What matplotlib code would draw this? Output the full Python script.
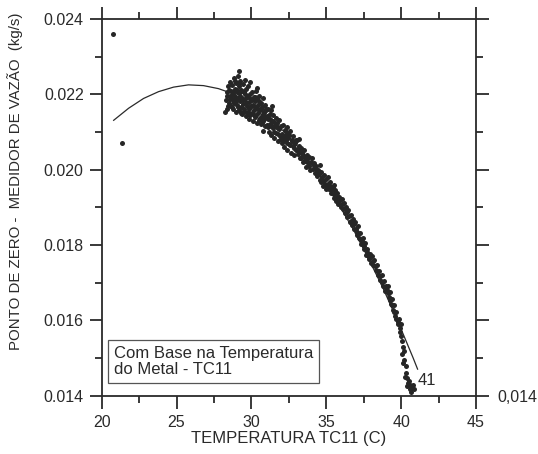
import matplotlib.pyplot as plt
from matplotlib.ticker import MultipleLocator, FormatStrFormatter

plt.rcParams['font.family'] = ['Liberation Sans', 'DejaVu Sans']

# fitted curve
fit_temp = [20.8, 21.8, 22.8, 23.8, 24.8, 25.8, 26.8, 27.8, 28.8, 29.8, 30.8,
            31.8, 32.8, 33.8, 34.8, 35.8, 36.8, 37.8, 38.8, 39.8, 40.8, 41.1]
fit_flow = [0.02131, 0.02163, 0.02189, 0.02207, 0.02219, 0.02225, 0.02223,
            0.02215, 0.02201, 0.02179, 0.02151, 0.02116, 0.02075, 0.02026,
            0.01971, 0.01910, 0.01842, 0.01766, 0.01685, 0.01596, 0.01501,
            0.01471]

# measured points (TC11 temperature, zero point of the flow meter)
temp = [
    20.77, 21.33,
    28.32, 28.35, 28.40, 28.45, 28.48, 28.55, 28.58, 28.62, 28.66, 28.70,
    28.73, 28.77, 28.80, 28.84, 28.87, 28.90, 28.93, 28.96, 28.99, 29.02,
    28.38, 28.43, 28.51, 28.60, 28.68, 28.75, 28.82, 28.91, 28.97, 28.25,
    29.05, 29.08, 29.10, 29.14, 29.17, 29.20, 29.23, 29.27, 29.30, 29.33,
    29.36, 29.40, 29.43, 29.46, 29.50, 29.53, 29.56, 29.60, 29.63, 29.66,
    29.70, 29.73, 29.77, 29.80, 29.83, 29.87, 29.90, 29.94, 29.97,
    29.06, 29.12, 29.19, 29.25, 29.31, 29.38, 29.44, 29.51, 29.58, 29.65,
    29.71, 29.79, 29.86, 29.92, 29.99, 29.20, 29.90,
    30.01, 30.04, 30.08, 30.11, 30.15, 30.18, 30.22, 30.25, 30.29, 30.32,
    30.36, 30.40, 30.43, 30.47, 30.50, 30.54, 30.58, 30.61, 30.65, 30.69,
    30.72, 30.76, 30.80, 30.84, 30.88, 30.92, 30.96, 30.99,
    30.06, 30.13, 30.20, 30.27, 30.34, 30.41, 30.49, 30.56, 30.63, 30.70,
    30.78, 30.86, 30.94, 30.75, 30.40,
    31.04, 31.08, 31.12, 31.17, 31.21, 31.25, 31.30, 31.34, 31.38, 31.43,
    31.47, 31.52, 31.56, 31.61, 31.66, 31.70, 31.75, 31.80, 31.85, 31.90,
    31.95,
    31.06, 31.14, 31.23, 31.32, 31.41, 31.50, 31.58, 31.68, 31.77, 31.87,
    31.97, 31.40,
    32.02, 32.08, 32.13, 32.18, 32.23, 32.29, 32.35, 32.40, 32.46, 32.52,
    32.58, 32.63, 32.69, 32.75, 32.81, 32.87, 32.93, 32.98,
    32.05, 32.16, 32.26, 32.37, 32.49, 32.60, 32.72, 32.84, 32.95, 32.40,
    33.05, 33.11, 33.18, 33.24, 33.30, 33.37, 33.43, 33.50, 33.57, 33.63,
    33.70, 33.77, 33.84, 33.91, 33.97,
    33.08, 33.21, 33.34, 33.47, 33.60, 33.73, 33.87, 33.20,
    34.05, 34.12, 34.19, 34.26, 34.33, 34.40, 34.47, 34.55, 34.62, 34.70,
    34.77, 34.85, 34.93, 34.99,
    34.09, 34.23, 34.37, 34.51, 34.66, 34.81, 34.96, 34.60,
    35.06, 35.13, 35.20, 35.28, 35.35, 35.43, 35.50, 35.58, 35.66, 35.73,
    35.81, 35.88, 35.96,
    35.10, 35.24, 35.39, 35.54, 35.69, 35.84, 35.50,
    36.03, 36.10, 36.18, 36.25, 36.33, 36.40, 36.48, 36.56, 36.63, 36.71,
    36.79, 36.87, 36.95,
    36.07, 36.22, 36.37, 36.52, 36.67, 36.83, 36.98,
    37.03, 37.11, 37.19, 37.27, 37.35, 37.43, 37.51, 37.59, 37.67, 37.75,
    37.83, 37.91, 37.98,
    37.07, 37.23, 37.39, 37.55, 37.71, 37.87,
    38.06, 38.14, 38.22, 38.30, 38.38, 38.46, 38.54, 38.62, 38.70, 38.78,
    38.86, 38.94, 38.99,
    38.10, 38.26, 38.42, 38.58, 38.74, 38.90,
    39.06, 39.13, 39.20, 39.27, 39.34, 39.41, 39.48, 39.55, 39.62, 39.69,
    39.76, 39.83, 39.90, 39.96, 40.00,
    39.10, 39.24, 39.38, 39.52, 39.66, 39.80, 39.93,
    40.05, 40.10, 40.08, 40.18, 40.22, 40.15, 40.30, 40.35, 40.28, 40.42,
    40.48, 40.40, 40.55, 40.62, 40.58, 40.72, 40.80, 40.85, 40.68,
]
flow = [
    0.02359, 0.02070,
    0.02185, 0.02162, 0.02205, 0.02221, 0.02178, 0.02196, 0.02232, 0.02170,
    0.02210, 0.02188, 0.02225, 0.02160, 0.02201, 0.02243, 0.02180, 0.02215,
    0.02192, 0.02154, 0.02230, 0.02205,
    0.02195, 0.02170, 0.02212, 0.02188, 0.02165, 0.02205, 0.02176, 0.02236,
    0.02183, 0.02152,
    0.02172, 0.02248, 0.02190, 0.02221, 0.02158, 0.02203, 0.02182, 0.02235,
    0.02166, 0.02212, 0.02190, 0.02147, 0.02226, 0.02175, 0.02205, 0.02160,
    0.02238, 0.02188, 0.02142, 0.02214, 0.02170, 0.02196, 0.02153, 0.02222,
    0.02180, 0.02135, 0.02201, 0.02166, 0.02188,
    0.02212, 0.02165, 0.02230, 0.02196, 0.02150, 0.02208, 0.02185, 0.02155,
    0.02200, 0.02176, 0.02150, 0.02193, 0.02162, 0.02145, 0.02170, 0.02262,
    0.02232,
    0.02150, 0.02205, 0.02172, 0.02130, 0.02193, 0.02158, 0.02181, 0.02140,
    0.02208, 0.02165, 0.02125, 0.02187, 0.02150, 0.02172, 0.02133, 0.02196,
    0.02158, 0.02120, 0.02178, 0.02142, 0.02165, 0.02190, 0.02128, 0.02152,
    0.02171, 0.02115, 0.02140, 0.02160,
    0.02185, 0.02148, 0.02168, 0.02192, 0.02146, 0.02162, 0.02182, 0.02138,
    0.02160, 0.02125, 0.02148, 0.02135, 0.02155, 0.02102, 0.02218,
    0.02118, 0.02162, 0.02135, 0.02101, 0.02148, 0.02122, 0.02158, 0.02092,
    0.02130, 0.02110, 0.02145, 0.02083, 0.02118, 0.02136, 0.02098, 0.02125,
    0.02076, 0.02110, 0.02131, 0.02090, 0.02115,
    0.02142, 0.02112, 0.02135, 0.02115, 0.02128, 0.02100, 0.02125, 0.02112,
    0.02095, 0.02108, 0.02082, 0.02168,
    0.02072, 0.02118, 0.02090, 0.02060, 0.02105, 0.02078, 0.02098, 0.02052,
    0.02085, 0.02068, 0.02102, 0.02045, 0.02080, 0.02062, 0.02090, 0.02040,
    0.02070, 0.02052,
    0.02095, 0.02078, 0.02090, 0.02070, 0.02092, 0.02065, 0.02075, 0.02058,
    0.02078, 0.02112,
    0.02078, 0.02042, 0.02063, 0.02030, 0.02058, 0.02045, 0.02020, 0.02052,
    0.02031, 0.02008, 0.02040, 0.02018, 0.02033, 0.01998, 0.02020,
    0.02055, 0.02048, 0.02030, 0.02038, 0.02022, 0.02028, 0.02010, 0.02082,
    0.02032, 0.02002, 0.02018, 0.01990, 0.02010, 0.01982, 0.02000, 0.01972,
    0.01995, 0.01980, 0.01958, 0.01985, 0.01962, 0.01975,
    0.02015, 0.02005, 0.01995, 0.01988, 0.01968, 0.01970, 0.01950, 0.02012,
    0.01955, 0.01980, 0.01948, 0.01968, 0.01938, 0.01955, 0.01926, 0.01945,
    0.01918, 0.01938, 0.01910, 0.01928, 0.01900,
    0.01962, 0.01958, 0.01945, 0.01935, 0.01928, 0.01918, 0.01960,
    0.01922, 0.01895, 0.01912, 0.01885, 0.01902, 0.01875, 0.01893, 0.01862,
    0.01880, 0.01852, 0.01870, 0.01843, 0.01860,
    0.01908, 0.01898, 0.01888, 0.01876, 0.01865, 0.01855, 0.01842,
    0.01835, 0.01850, 0.01818, 0.01832, 0.01802, 0.01818, 0.01790, 0.01805,
    0.01775, 0.01790, 0.01762, 0.01776, 0.01752,
    0.01828, 0.01815, 0.01810, 0.01798, 0.01782, 0.01768,
    0.01772, 0.01748, 0.01760, 0.01735, 0.01748, 0.01720, 0.01732, 0.01708,
    0.01720, 0.01692, 0.01705, 0.01678, 0.01692,
    0.01758, 0.01745, 0.01732, 0.01718, 0.01702, 0.01690,
    0.01680, 0.01692, 0.01662, 0.01675, 0.01645, 0.01658, 0.01628, 0.01640,
    0.01612, 0.01622, 0.01595, 0.01603, 0.01580, 0.01590, 0.01560,
    0.01672, 0.01655, 0.01640, 0.01622, 0.01605, 0.01590, 0.01570,
    0.01545, 0.01530, 0.01512, 0.01520, 0.01495, 0.01488, 0.01480, 0.01462,
    0.01450, 0.01448, 0.01435, 0.01425, 0.01440, 0.01428, 0.01418, 0.01422,
    0.01430, 0.01418, 0.01410,
]

ink = '#2a2a2a'

fig = plt.figure(figsize=(5.38, 4.54), dpi=100)
ax = fig.add_axes([0.189, 0.128, 0.6957, 0.8304])

ax.plot(fit_temp, fit_flow, color=ink, lw=0.9, zorder=2)
ax.plot(temp, flow, 'o', ms=3.6, mew=0, color='#262626', zorder=3)

ax.set_xlim(20, 45)
ax.set_ylim(0.014, 0.024)
ax.xaxis.set_major_locator(MultipleLocator(5))
ax.xaxis.set_minor_locator(MultipleLocator(2.5))
ax.yaxis.set_major_locator(MultipleLocator(0.002))
ax.yaxis.set_minor_locator(MultipleLocator(0.001))
ax.yaxis.set_major_formatter(FormatStrFormatter('%.3f'))

for s in ax.spines.values():
    s.set_linewidth(1.3)
    s.set_color(ink)

ax.tick_params(which='both', direction='out', width=1.3, color=ink,
               top=True, right=True, labelcolor=ink, labelsize=11.5)
ax.tick_params(which='major', length=9)
ax.tick_params(which='minor', length=5)
ax.tick_params(axis='x', pad=5)
ax.tick_params(axis='y', pad=4)

ax.text(1.056, 0.014, '0,014', transform=ax.get_yaxis_transform(),
        ha='left', va='center_baseline', fontsize=11.5, color=ink)
ax.text(41.75, 0.0144, '41', ha='center', va='center', fontsize=12,
        color=ink)

fig.text(0.212, 0.2037, 'Com Base na Temperatura\ndo Metal - TC11',
         ha='left', va='center', fontsize=12, color=ink, linespacing=1.1,
         bbox=dict(boxstyle='square,pad=0.35', fc='white', ec='#555555',
                   lw=0.9))

fig.text(0.5365, 0.024, 'TEMPERATURA TC11 (C)', ha='center',
         va='baseline', fontsize=12, color=ink)
fig.text(0.027, 0.601, 'PONTO DE ZERO -  MEDIDOR DE VAZÃO  (kg/s)',
         rotation=90, ha='center', va='center', fontsize=10.8, color=ink)

fig.savefig('out.png', dpi=100, facecolor='white')
